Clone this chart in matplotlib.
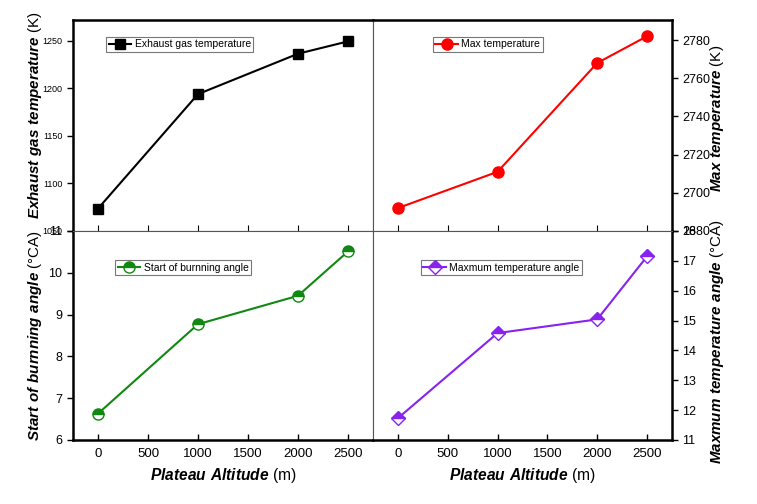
import matplotlib
matplotlib.use('Agg')
import matplotlib.pyplot as plt
import numpy as np

plt.rcParams['font.family'] = ['Liberation Sans', 'DejaVu Sans']
plt.rcParams['mathtext.fontset'] = 'custom'
plt.rcParams['mathtext.rm'] = 'Liberation Sans'
plt.rcParams['mathtext.bfit'] = 'Liberation Sans:bold:italic'

altitude = [0, 1000, 2000, 2500]
exhaust_temp = [1073.5, 1194, 1236.5, 1249.5]
max_temp = [2692, 2711, 2768, 2782]
burn_angle = [6.63, 8.77, 9.45, 10.51]
max_temp_angle = [11.73, 14.58, 15.04, 17.15]

xticks = [0, 500, 1000, 1500, 2000, 2500]

fig = plt.figure(figsize=(7.57, 5.04), dpi=100)

L, M, R = 0.0964, 0.4927, 0.8877
B, H, T = 0.127, 0.5417, 0.9603

ax1 = fig.add_axes([L, H, M - L, T - H])
ax2 = fig.add_axes([M, H, R - M, T - H])
ax3 = fig.add_axes([L, B, M - L, H - B])
ax4 = fig.add_axes([M, B, R - M, H - B])

inner = '#555555'
lab_fs = 10.9


def style(ax, side, top_row):
    ax.set_xlim(-250, 2750)
    ax.set_xticks(xticks)
    for s in ax.spines.values():
        s.set_linewidth(1.8)
        s.set_color('black')
    if top_row:
        ax.spines['bottom'].set_linewidth(0.8)
        ax.spines['bottom'].set_color(inner)
        ax.tick_params(axis='x', direction='in', length=4, width=0.8,
                       labelbottom=False)
    else:
        ax.spines['top'].set_linewidth(0.8)
        ax.spines['top'].set_color(inner)
        ax.tick_params(axis='x', direction='in', length=4, width=1.0,
                       labelsize=9.5, pad=6)
        ax.set_xlabel(r'$\mathbfit{Plateau\ Altitude}$ (m)', fontsize=11.2,
                      labelpad=4)
    if side == 'left':
        ax.spines['right'].set_linewidth(0.8)
        ax.spines['right'].set_color(inner)
        ax.yaxis.tick_left()
    else:
        ax.spines['left'].set_linewidth(0.8)
        ax.spines['left'].set_color(inner)
        ax.yaxis.tick_right()
        ax.yaxis.set_label_position('right')
    ax.tick_params(axis='y', direction='out', length=4, width=1.0)


def add_legend(ax, loc):
    leg = ax.legend(loc='upper left', bbox_to_anchor=loc, fontsize=7.5,
                    frameon=True, fancybox=False, handlelength=2.2,
                    handletextpad=0.3, borderpad=0.25, borderaxespad=0)
    leg.get_frame().set_edgecolor('#555555')
    leg.get_frame().set_linewidth(0.8)


# exhaust gas temperature
ax1.plot(altitude, exhaust_temp, color='black', lw=1.5, marker='s', ms=7,
         label='Exhaust gas temperature')
style(ax1, 'left', True)
ax1.set_ylim(1050, 1272)
ax1.set_yticks([1050, 1100, 1150, 1200, 1250])
ax1.tick_params(axis='y', labelsize=6.5)
ax1.set_ylabel(r'$\mathbfit{Exhaust\ gas\ temperature}$ (K)', fontsize=lab_fs)
ax1.yaxis.set_label_coords(-0.097, 0.55)
add_legend(ax1, (0.11, 0.92))

# max temperature
ax2.plot(altitude, max_temp, color='red', lw=1.5, marker='o', ms=8,
         label='Max temperature')
style(ax2, 'right', True)
ax2.set_ylim(2680, 2790.5)
ax2.set_yticks([2680, 2700, 2720, 2740, 2760, 2780])
ax2.tick_params(axis='y', labelsize=9)
ax2.set_ylabel(r'$\mathbfit{Max\ temperature}$ (K)', fontsize=lab_fs)
ax2.yaxis.set_label_coords(1.12, 0.535)
add_legend(ax2, (0.2, 0.92))

# start of burning angle
ax3.plot(altitude, burn_angle, color='#118811', lw=1.5, marker='o', ms=8,
         fillstyle='top', markerfacecoloralt='white', mec='#118811',
         label='Start of burnning angle')
style(ax3, 'left', False)
ax3.set_ylim(6, 11)
ax3.set_yticks([6, 7, 8, 9, 10, 11])
ax3.tick_params(axis='y', labelsize=9)
ax3.set_ylabel(r'$\mathbfit{Start\ of\ burnning\ angle}$ (°CA)',
               fontsize=lab_fs)
ax3.yaxis.set_label_coords(-0.097, 0.5)
add_legend(ax3, (0.14, 0.86))

# maximum temperature angle
ax4.plot(altitude, max_temp_angle, color='#8822ee', lw=1.5, marker='D', ms=7,
         fillstyle='top', markerfacecoloralt='white', mec='#8822ee',
         label='Maxmum temperature angle')
style(ax4, 'right', False)
ax4.set_ylim(11, 18)
ax4.set_yticks([11, 12, 13, 14, 15, 16, 17, 18])
ax4.tick_params(axis='y', labelsize=9)
ax4.set_ylabel(r'$\mathbfit{Maxmum\ temperature\ angle}$ (°CA)',
               fontsize=lab_fs)
ax4.yaxis.set_label_coords(1.12, 0.47)
add_legend(ax4, (0.16, 0.86))

plt.savefig('out.png', dpi=100)
plt.close()
